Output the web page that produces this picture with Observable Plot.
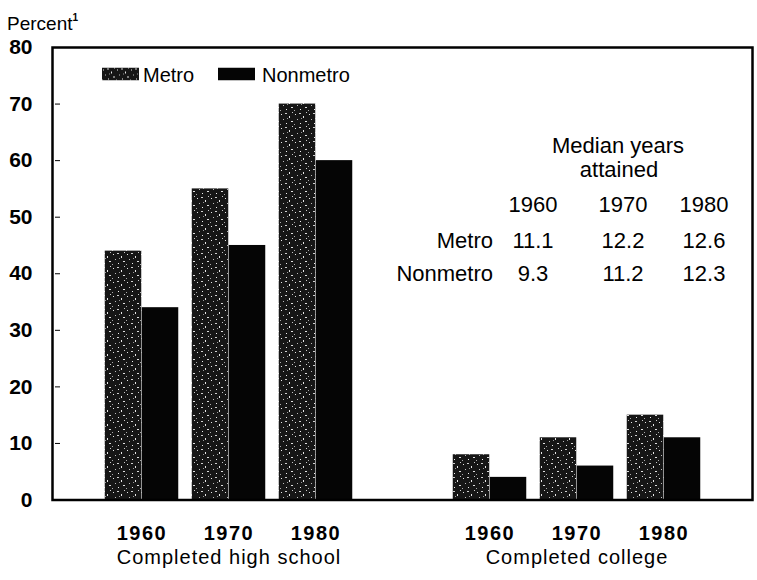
<!DOCTYPE html>
<html><head><meta charset="utf-8">
<script src="https://cdn.jsdelivr.net/npm/d3@7"></script>
<script src="https://cdn.jsdelivr.net/npm/@observablehq/plot@0.6"></script>
<style>
body{margin:0;background:#fff;}
#wrap{position:relative;width:757px;height:580px;font-family:"Liberation Sans",Arial,sans-serif;color:#000;overflow:hidden;}
#wrap > svg.plot{position:absolute;left:0;top:0;}
.t{position:absolute;white-space:nowrap;line-height:1;font-size:22px;}
.c{transform:translate(-50%,-50%);}
.r{transform:translate(-100%,-50%);}
.l{transform:translate(0,-50%);}
</style></head><body>
<svg width="0" height="0" style="position:absolute">
  <defs>
    <pattern id="metroTex" patternUnits="userSpaceOnUse" width="14" height="14">
      <rect width="14" height="14" fill="#161616"></rect>
      <rect x="1" y="2" width="1" height="1" fill="#e8e8e8"></rect>
      <rect x="5" y="1" width="2" height="1" fill="#cfcfcf"></rect>
      <rect x="9" y="4" width="1" height="2" fill="#e8e8e8"></rect>
      <rect x="3" y="7" width="1" height="1" fill="#bdbdbd"></rect>
      <rect x="11" y="9" width="2" height="1" fill="#e0e0e0"></rect>
      <rect x="6" y="11" width="1" height="1" fill="#f0f0f0"></rect>
      <rect x="0" y="12" width="1" height="1" fill="#aaaaaa"></rect>
      <rect x="12" y="0" width="1" height="1" fill="#cccccc"></rect>
      <rect x="7" y="6" width="1" height="1" fill="#9a9a9a"></rect>
    </pattern>
  </defs>
</svg>
<div id="wrap"></div>
<script>
// ---- data ----
const years = ["1960", "1970", "1980"];
const groups = ["Completed high school", "Completed college"];
const series = ["Metro", "Nonmetro"];
const metroHighSchool = [44, 55, 70];
const nonmetroHighSchool = [34, 45, 60];
const metroCollege = [8, 11, 15];
const nonmetroCollege = [4, 6, 11];
const yTicks = [0, 10, 20, 30, 40, 50, 60, 70, 80];
const medianTitle = ["Median years", "attained"];
const medianYears = ["1960", "1970", "1980"];
const medianMetro = ["11.1", "12.2", "12.6"];
const medianNonmetro = ["9.3", "11.2", "12.3"];

// ---- table for Plot ----
const groupKeys = ["HS", "C"];
const slots = [...years.map(y => "HS|" + y), "gap", ...years.map(y => "C|" + y)];
const values = {
  HS: {Metro: metroHighSchool, Nonmetro: nonmetroHighSchool},
  C: {Metro: metroCollege, Nonmetro: nonmetroCollege}
};
const rows = [];
for (const g of groupKeys) for (const s of series) years.forEach((y, i) => {
  rows.push({slot: g + "|" + y, series: s, value: values[g][s][i]});
});

const FONT = '"Liberation Sans", Arial, sans-serif';
const chart = Plot.plot({
  width: 757, height: 580,
  marginTop: 47, marginBottom: 80.5, marginLeft: 52, marginRight: 5,
  style: {fontFamily: FONT, background: "transparent", color: "#000", overflow: "visible"},
  x: {type: "band", domain: slots, paddingInner: 0, paddingOuter: 0.5, axis: null},
  y: {domain: [0, 80], axis: null},
  marks: [
    Plot.barY(rows.filter(d => d.series === "Metro"), {x: "slot", y: "value", fill: "url(#metroTex)", insetLeft: 6.75, insetRight: 43.75}),
    Plot.barY(rows.filter(d => d.series === "Nonmetro"), {x: "slot", y: "value", fill: "#050505", insetLeft: 43.75, insetRight: 6.75}),
    Plot.axisY(yTicks, {anchor: "left", tickSize: 0, tickPadding: 20, fontSize: 21, fontWeight: "bold", label: null}),
    Plot.gridY(yTicks.slice(1, -1), {stroke: "#000", strokeOpacity: 1, strokeWidth: 1, insetLeft: 3, insetRight: 692}),
    Plot.axisX(slots.filter(s => s !== "gap"), {anchor: "bottom", tickSize: 0, tickPadding: 26, fontSize: 20, fontWeight: "bold", label: null, tickFormat: s => s.split("|")[1]}),
    Plot.axisX(["HS|1970", "C|1970"], {anchor: "bottom", tickSize: 0, tickPadding: 50, fontSize: 20, label: null, tickFormat: s => s.startsWith("HS") ? groups[0] : groups[1]}),
    Plot.frame({stroke: "#000", strokeWidth: 2.5})
  ]
});
chart.classList.add("plot");
const wrap = document.getElementById("wrap");
wrap.appendChild(chart);
d3.select(chart).selectAll("text").each(function () {
  if (years.includes(this.textContent)) this.style.letterSpacing = "1.5px";
  else if (groups.includes(this.textContent)) this.style.letterSpacing = "1px";
});

// ---- overlays ----
function add(text, x, y, cls, extra) {
  const d = document.createElement("div");
  d.className = "t " + cls;
  d.style.left = x + "px"; d.style.top = y + "px";
  if (extra) Object.assign(d.style, extra);
  d.innerHTML = text;
  wrap.appendChild(d);
  return d;
}
add('Percent<sup style="font-size:10px;font-weight:bold;vertical-align:9px">1</sup>', 7, 22.5, "l", {fontSize: "19px"});

// legend
const sw = (fill) => `<svg width="37" height="13" style="display:block"><rect width="37" height="13" fill="${fill}"></rect></svg>`;
add(sw("url(#metroTex)"), 102, 73.5, "l");
add(series[0], 143, 74.5, "l", {fontSize: "20px"});
add(sw("#050505"), 218, 73.5, "l");
add(series[1], 262, 74.5, "l", {fontSize: "20px"});

// median years table
add(medianTitle[0], 618, 145.5, "c");
add(medianTitle[1], 619, 170, "c");
const cols = [533, 623, 704];
medianYears.forEach((y, i) => add(y, cols[i], 205, "c"));
add(series[0], 493, 241, "r");
medianMetro.forEach((v, i) => add(v, cols[i], 241, "c"));
add(series[1], 493, 274, "r");
medianNonmetro.forEach((v, i) => add(v, cols[i], 274, "c"));
</script>
</body></html>
